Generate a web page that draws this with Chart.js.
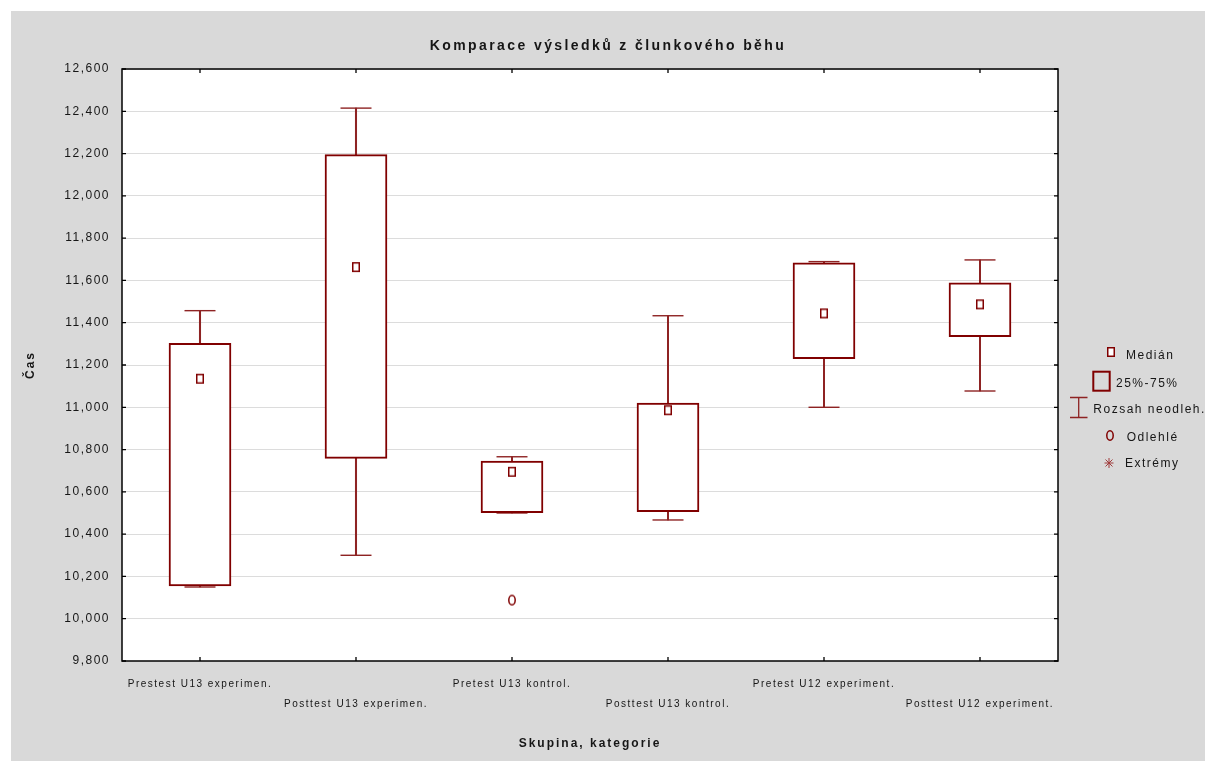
<!DOCTYPE html>
<html lang="cs">
<head>
<meta charset="utf-8">
<title>Komparace výsledků z člunkového běhu</title>
<script src="https://cdn.jsdelivr.net/npm/chart.js@4.4.1/dist/chart.umd.min.js"></script>
<style>
  html, body { margin: 0; padding: 0; background: #ffffff; }
  #wrap { position: absolute; left: 11px; top: 11px; width: 1194px; height: 750px; }
  canvas { display: block; }
</style>
</head>
<body>
<div id="wrap"><canvas id="chart" width="1194" height="750"></canvas></div>
<script>
// Groups (x categories)
const CATEGORIES = [
  'Prestest U13 experimen.',
  'Posttest U13 experimen.',
  'Pretest U13 kontrol.',
  'Posttest U13 kontrol.',
  'Pretest U12 experiment.',
  'Posttest U12 experiment.'
];
// Box plot statistics per group (seconds)
const MEDIANS       = [11135, 11663, 10695, 10986, 11444, 11487];
const Q1            = [10155, 10758, 10501, 10506, 11230, 11334];
const Q3            = [11302, 12195, 10746, 11020, 11683, 11589];
const WHISKER_LOW   = [10150, 10300, 10500, 10467, 11000, 11077];
const WHISKER_HIGH  = [11457, 12415, 10766, 11433, 11689, 11697];
const OUTLIERS      = [null, null, 10088, null, null, null];
// Value axis tick labels
const Y_TICKS = [9800, 10000, 10200, 10400, 10600, 10800, 11000, 11200, 11400, 11600, 11800, 12000, 12200, 12400, 12600];
// Legend entries
const LEGEND_LABELS = ['Medián', '25%-75%', 'Rozsah neodleh.', 'Odlehlé', 'Extrémy'];

const BOX_COLOR = '#800000';
const WHISKER_COLOR = '#8e2323';
const TEXT_COLOR = '#161616';
const FONT = "'Liberation Sans', Arial, Helvetica, sans-serif";
const TEXT_SPACING = '1.5px';
const TITLE_SPACING = '2.4px';
const AXIS_TITLE_SPACING = '2px';

function markerCanvas(w, h, paint) {
  const c = document.createElement('canvas');
  c.width = w; c.height = h;
  paint(c.getContext('2d'));
  return c;
}
// small hollow rectangle used for the median
const medianMarker = markerCanvas(10, 12, g => {
  g.fillStyle = '#ffffff';
  g.fillRect(1.5, 1.5, 7, 9);
  g.strokeStyle = BOX_COLOR;
  g.lineWidth = 1.5;
  g.strokeRect(1.75, 1.75, 6.5, 8.5);
});
// small hollow ellipse used for outliers
const outlierMarker = markerCanvas(10, 13, g => {
  g.strokeStyle = BOX_COLOR;
  g.lineWidth = 1.5;
  g.beginPath();
  g.ellipse(5, 6.5, 3.2, 4.7, 0, 0, Math.PI * 2);
  g.stroke();
});

function withSpacing(ctx, spacing, fn) {
  ctx.save();
  ctx.letterSpacing = spacing;
  fn();
  ctx.restore();
}

// Letter-spaced text for ticks, titles and axis titles
const spacingPlugin = {
  id: 'spacing',
  beforeUpdate(chart) { chart.ctx.letterSpacing = TEXT_SPACING; },
  beforeDraw(chart) {
    const ctx = chart.ctx;
    ctx.letterSpacing = TEXT_SPACING;
    const block = chart.titleBlock;
    if (block && !block._spaced) {
      const draw = block.draw.bind(block);
      block.draw = (area) => withSpacing(ctx, TITLE_SPACING, () => draw(area));
      block._spaced = true;
    }
    Object.values(chart.scales).forEach(scale => {
      if (!scale._spaced) {
        const drawTitle = scale.drawTitle.bind(scale);
        scale.drawTitle = () => withSpacing(ctx, AXIS_TITLE_SPACING, drawTitle);
        scale._spaced = true;
      }
    });
  }
};

// Grey panel with white plotting area
const backgroundPlugin = {
  id: 'panel',
  beforeDraw(chart) {
    const { ctx, chartArea: a } = chart;
    ctx.save();
    ctx.fillStyle = '#d9d9d9';
    ctx.fillRect(0, 0, chart.width, chart.height);
    ctx.fillStyle = '#ffffff';
    ctx.fillRect(a.left, a.top, a.right - a.left, a.bottom - a.top);
    ctx.restore();
  }
};

// Plot frame with inward tick marks on all four sides
const framePlugin = {
  id: 'frame',
  afterDraw(chart) {
    const { ctx, chartArea: a, scales: { x, y } } = chart;
    const len = 4;
    ctx.save();
    ctx.strokeStyle = '#000000';
    ctx.lineWidth = 1.5;
    ctx.strokeRect(a.left, a.top, a.right - a.left, a.bottom - a.top);
    ctx.lineWidth = 1.3;
    ctx.beginPath();
    y.ticks.forEach(t => {
      const py = y.getPixelForValue(t.value);
      ctx.moveTo(a.left, py); ctx.lineTo(a.left + len, py);
      ctx.moveTo(a.right, py); ctx.lineTo(a.right - len, py);
    });
    x.ticks.forEach((t, i) => {
      const px = x.getPixelForTick(i);
      ctx.moveTo(px, a.top); ctx.lineTo(px, a.top + len);
      ctx.moveTo(px, a.bottom); ctx.lineTo(px, a.bottom - len);
    });
    ctx.stroke();
    ctx.restore();
  }
};

// Key of box plot symbols at the right
const keyPlugin = {
  id: 'boxKey',
  afterDraw(chart) {
    const ctx = chart.ctx;
    ctx.save();
    ctx.strokeStyle = BOX_COLOR;
    // median
    ctx.drawImage(medianMarker, 1100 - 5, 341 - 6);
    // box 25%-75%
    ctx.lineWidth = 2;
    ctx.strokeRect(1082.3, 360.7, 16.4, 19);
    // whisker range
    ctx.lineWidth = 1.3;
    ctx.strokeStyle = WHISKER_COLOR;
    ctx.beginPath();
    ctx.moveTo(1059, 386.5); ctx.lineTo(1076.5, 386.5);
    ctx.moveTo(1059, 406.5); ctx.lineTo(1076.5, 406.5);
    ctx.moveTo(1067.7, 386.5); ctx.lineTo(1067.7, 406.5);
    ctx.stroke();
    // outlier
    ctx.drawImage(outlierMarker, 1099 - 5, 424.5 - 6.5);
    // extremes (asterisk)
    ctx.strokeStyle = '#a03c3c';
    ctx.lineWidth = 1;
    ctx.beginPath();
    ctx.moveTo(1098, 447); ctx.lineTo(1098, 457);
    ctx.moveTo(1093.5, 452); ctx.lineTo(1102.5, 452);
    ctx.moveTo(1094.5, 448.5); ctx.lineTo(1101.5, 455.5);
    ctx.moveTo(1101.5, 448.5); ctx.lineTo(1094.5, 455.5);
    ctx.stroke();
    // labels
    ctx.letterSpacing = TEXT_SPACING;
    ctx.fillStyle = TEXT_COLOR;
    ctx.font = `12px ${FONT}`;
    ctx.textBaseline = 'middle';
    ctx.textAlign = 'left';
    const pos = [[1115, 345], [1105, 372.5], [1082.3, 399], [1115.7, 426.3], [1114, 453]];
    LEGEND_LABELS.forEach((t, i) => ctx.fillText(t, pos[i][0], pos[i][1]));
    ctx.restore();
  }
};

new Chart(document.getElementById('chart'), {
  type: 'bar',
  data: {
    labels: CATEGORIES,
    datasets: [
      {
        label: 'Rozsah neodleh.',
        data: WHISKER_LOW.map((v, i) => [v, WHISKER_HIGH[i]]),
        backgroundColor: WHISKER_COLOR,
        borderWidth: 0,
        barThickness: 1.4,
        grouped: false,
        order: 4
      },
      {
        type: 'line',
        label: 'Horní mez',
        data: WHISKER_HIGH,
        showLine: false,
        pointStyle: 'line',
        pointRadius: 15.5,
        pointBorderWidth: 1.4,
        pointBorderColor: WHISKER_COLOR,
        order: 3
      },
      {
        type: 'line',
        label: 'Dolní mez',
        data: WHISKER_LOW,
        showLine: false,
        pointStyle: 'line',
        pointRadius: 15.5,
        pointBorderWidth: 1.4,
        pointBorderColor: WHISKER_COLOR,
        order: 3
      },
      {
        label: '25%-75%',
        data: Q1.map((v, i) => [v, Q3[i]]),
        backgroundColor: '#ffffff',
        borderColor: BOX_COLOR,
        borderWidth: 2,
        borderSkipped: false,
        barThickness: 62,
        grouped: false,
        order: 2
      },
      {
        type: 'line',
        label: 'Medián',
        data: MEDIANS,
        showLine: false,
        pointStyle: medianMarker,
        order: 1
      },
      {
        type: 'line',
        label: 'Odlehlé',
        data: OUTLIERS,
        showLine: false,
        pointStyle: outlierMarker,
        order: 1
      }
    ]
  },
  options: {
    responsive: false,
    animation: false,
    events: [],
    layout: { padding: 0 },
    plugins: {
      legend: { display: false },
      tooltip: { enabled: false },
      title: {
        display: true,
        text: 'Komparace výsledků z člunkového běhu',
        color: TEXT_COLOR,
        font: { family: FONT, size: 14, weight: 'bold', lineHeight: 1.2 },
        padding: { top: 27, bottom: 14.2 }
      }
    },
    scales: {
      x: {
        type: 'category',
        offset: true,
        grid: { display: false, drawTicks: false },
        border: { display: false },
        ticks: {
          autoSkip: false,
          maxRotation: 0,
          minRotation: 0,
          padding: 13,
          color: TEXT_COLOR,
          font: { family: FONT, size: 10, lineHeight: 2 },
          callback(value, index) {
            const label = this.getLabelForValue(value);
            return index % 2 ? ['', label] : label;
          }
        },
        title: {
          display: true,
          text: 'Skupina, kategorie',
          color: TEXT_COLOR,
          font: { family: FONT, size: 12, weight: 'bold', lineHeight: 1.2 },
          padding: { top: 0, bottom: 10 }
        },
        afterFit(scale) { scale.height = 100; }
      },
      y: {
        type: 'linear',
        min: Y_TICKS[0],
        max: Y_TICKS[Y_TICKS.length - 1],
        grid: { color: '#dcdcdc', lineWidth: 1, drawTicks: false },
        border: { display: false },
        afterBuildTicks(scale) { scale.ticks = Y_TICKS.map(v => ({ value: v })); },
        ticks: {
          padding: 12,
          color: TEXT_COLOR,
          font: { family: FONT, size: 12 },
          callback: v => v.toLocaleString('en-US')
        },
        title: {
          display: true,
          text: 'Čas',
          color: TEXT_COLOR,
          font: { family: FONT, size: 12, weight: 'bold', lineHeight: 1.2 },
          padding: { top: 12, bottom: 0 }
        },
        afterFit(scale) { scale.width = 111; }
      },
      // empty right-hand band that holds the symbol key
      keyBand: {
        type: 'linear',
        position: 'right',
        display: true,
        grid: { display: false, drawTicks: false },
        border: { display: false },
        ticks: { display: false },
        afterFit(scale) { scale.width = 147; }
      }
    }
  },
  plugins: [spacingPlugin, backgroundPlugin, framePlugin, keyPlugin]
});
</script>
</body>
</html>
